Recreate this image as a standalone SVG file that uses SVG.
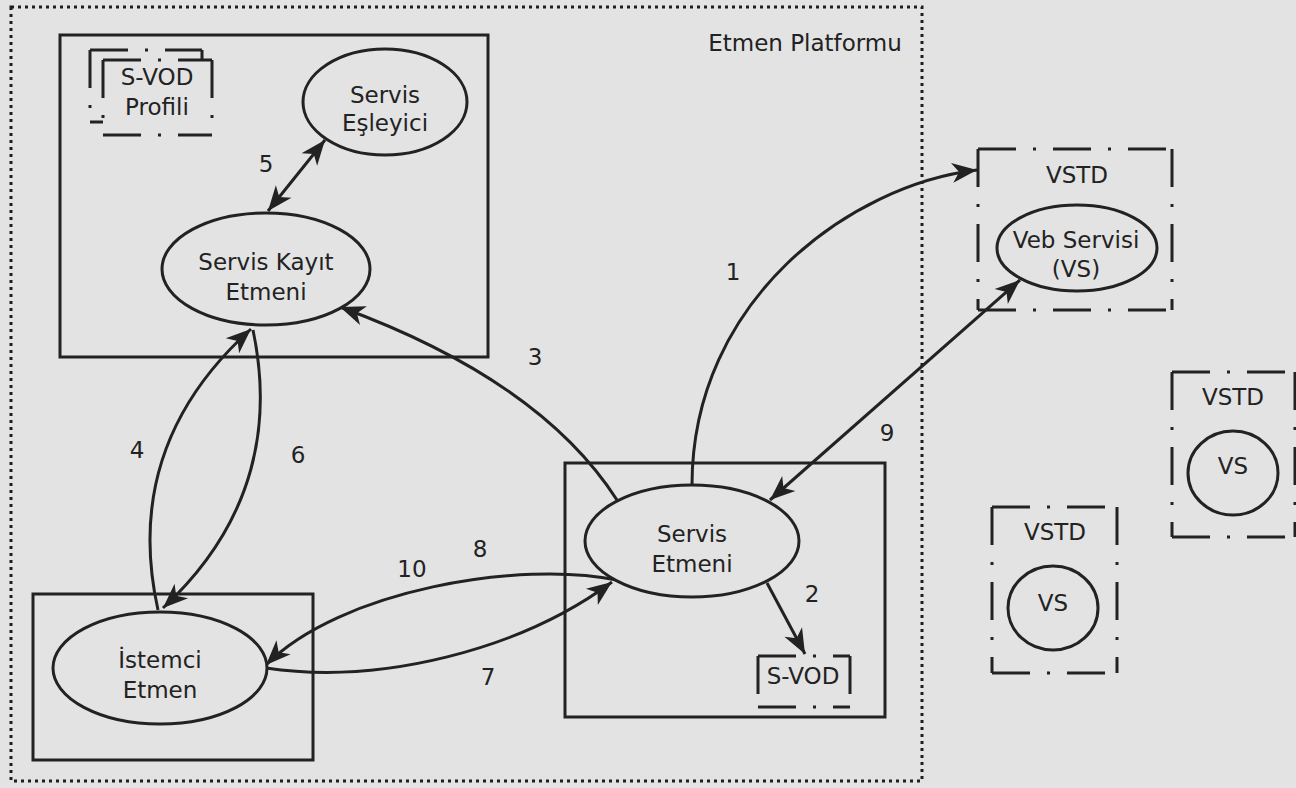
<svg xmlns="http://www.w3.org/2000/svg" width="1296" height="788" viewBox="0 0 1296 788">
  <style>
    .bg { fill: #e3e3e3; }
    .frame { fill: none; stroke: #1e1e1e; stroke-width: 3; stroke-dasharray: 3 4; }
    .box { fill: none; stroke: #222; stroke-width: 3; }
    .shape { fill: #e3e3e3; stroke: #222; stroke-width: 3; }
    .dd { fill: none; stroke: #222; stroke-width: 3; stroke-dasharray: 38 17 3 17; }
    .cover { fill: #e3e3e3; }
    .conn { fill: none; stroke: #222; stroke-width: 3; }
    text { font-family: "DejaVu Sans", "Noto Sans", sans-serif; font-size: 23px; fill: #222; text-anchor: middle; }
  </style>
  <defs>
    <marker id="head" markerUnits="userSpaceOnUse" markerWidth="28" markerHeight="22" viewBox="0 0 28 22" refX="26" refY="11" orient="auto-start-reverse">
      <path d="M26,11 L1,1 L8,11 L1,21 Z" fill="#222"/>
    </marker>
  </defs>

  <rect class="bg" x="0" y="0" width="1296" height="788"/>

  <!-- agent platform boundary -->
  <g id="platform">
    <rect class="frame" x="11" y="7" width="911" height="774"/>
    <text x="805" y="51">Etmen Platformu</text>
  </g>

  <!-- containers -->
  <g id="registry-box">
    <rect class="box" x="60" y="35" width="428" height="322"/>
  </g>

  <g id="client-box">
    <rect class="box" x="33" y="594" width="280" height="166"/>
  </g>

  <g id="service-box">
    <rect class="box" x="565" y="463" width="320" height="254"/>
  </g>

  <!-- dash-dot frames: each side is its own subpath so the pattern restarts at the corners -->
  <g id="svod-profile">
    <rect class="cover" x="90" y="50" width="112" height="72"/>
    <path class="dd" d="M90,50 H202 M90,50 V122 M202,50 V122 M90,122 H202"/>
    <rect class="cover" x="103" y="60" width="109" height="75"/>
    <path class="dd" d="M103,60 H212 M103,60 V135 M212,60 V135 M103,135 H212"/>
    <text x="157" y="85">S-VOD</text>
    <text x="157" y="115">Profili</text>
  </g>

  <g id="svod">
    <path class="dd" d="M758,656 H850 M758,656 V707 M850,656 V707 M758,707 H850"/>
    <text x="803" y="684">S-VOD</text>
  </g>

  <g id="vstd-main">
    <path class="dd" d="M978,149 H1172 M978,149 V310 M1172,149 V310 M978,310 H1172"/>
    <text x="1077" y="183">VSTD</text>
  </g>

  <g id="vstd-right">
    <path class="dd" d="M1172,372 H1295 M1172,372 V537 M1295,372 V537 M1172,537 H1295"/>
    <text x="1233" y="405">VSTD</text>
    <ellipse class="shape" cx="1233" cy="473" rx="45" ry="42"/>
    <text x="1233" y="474">VS</text>
  </g>

  <g id="vstd-bottom">
    <path class="dd" d="M992,507 H1117 M992,507 V673 M1117,507 V673 M992,673 H1117"/>
    <text x="1055" y="540">VSTD</text>
    <ellipse class="shape" cx="1053" cy="608" rx="45" ry="42"/>
    <text x="1053" y="611">VS</text>
  </g>

  <!-- message flows -->
  <g id="connectors">
    <!-- 5 -->
    <line class="conn" x1="325" y1="140" x2="268" y2="211" marker-start="url(#head)" marker-end="url(#head)"/>
    <!-- 3 -->
    <path class="conn" d="M617,500 Q540,380 340,307" marker-end="url(#head)"/>
    <!-- 1 -->
    <path class="conn" d="M692,485 C692,300 850,185 977,170" marker-end="url(#head)"/>
    <!-- 9 -->
    <line class="conn" x1="1020" y1="280" x2="770" y2="500" marker-start="url(#head)" marker-end="url(#head)"/>
    <!-- 4 -->
    <path class="conn" d="M158,610 C138,520 150,420 251,329" marker-end="url(#head)"/>
    <!-- 6 -->
    <path class="conn" d="M253,330 C272,420 258,520 163,608" marker-end="url(#head)"/>
    <!-- 10 / 8 -->
    <path class="conn" d="M617,580 C520,560 340,590 266,665" marker-end="url(#head)"/>
    <!-- 7 -->
    <path class="conn" d="M266,668 C380,685 520,650 612,582" marker-end="url(#head)"/>
    <!-- 2 -->
    <line class="conn" x1="767" y1="583" x2="805" y2="654" marker-end="url(#head)"/>
  </g>

  <g id="labels">
    <text x="266" y="172">5</text>
    <text x="535" y="365">3</text>
    <text x="733" y="280">1</text>
    <text x="887" y="441">9</text>
    <text x="137" y="458">4</text>
    <text x="298" y="463">6</text>
    <text x="480" y="557">8</text>
    <text x="412" y="577">10</text>
    <text x="488" y="685">7</text>
    <text x="812" y="602">2</text>
  </g>

  <!-- agents -->
  <g id="service-matcher">
    <ellipse class="shape" cx="385" cy="102" rx="82" ry="53"/>
    <text x="385" y="103">Servis</text>
    <text x="385" y="131">Eşleyici</text>
  </g>

  <g id="registry-agent">
    <ellipse class="shape" cx="266" cy="269" rx="104" ry="56"/>
    <text x="266" y="270">Servis Kayıt</text>
    <text x="266" y="300">Etmeni</text>
  </g>

  <g id="client-agent">
    <ellipse class="shape" cx="160" cy="668" rx="107" ry="56"/>
    <text x="160" y="668">İstemci</text>
    <text x="160" y="698">Etmen</text>
  </g>

  <g id="service-agent">
    <ellipse class="shape" cx="692" cy="541" rx="107" ry="56"/>
    <text x="692" y="542">Servis</text>
    <text x="692" y="572">Etmeni</text>
  </g>

  <g id="web-service">
    <ellipse class="shape" cx="1077" cy="248" rx="80" ry="43"/>
    <text x="1076" y="248">Veb Servisi</text>
    <text x="1076" y="277">(VS)</text>
  </g>
</svg>
